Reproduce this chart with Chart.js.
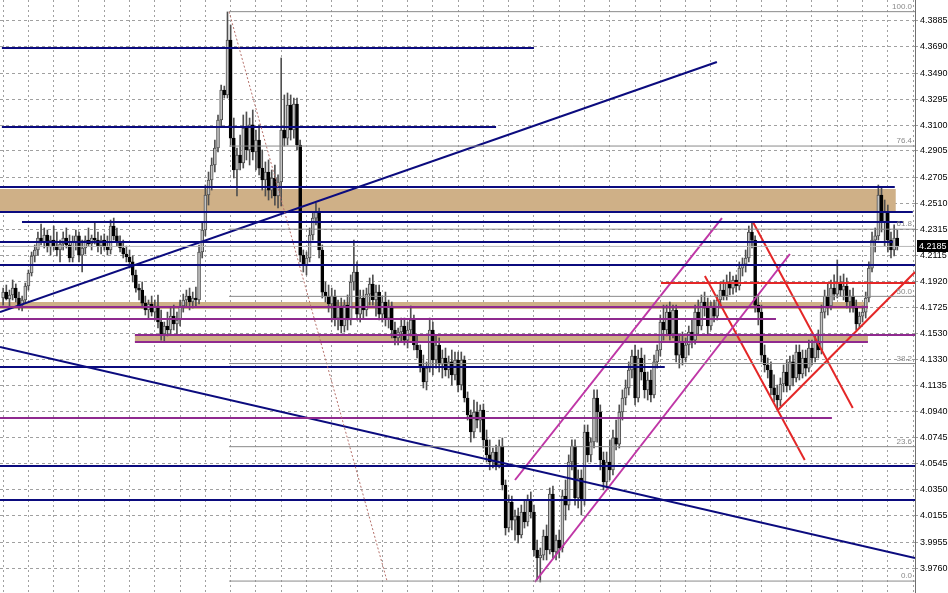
<!DOCTYPE html>
<html>
<head>
<meta charset="utf-8">
<script src="https://cdn.jsdelivr.net/npm/chart.js@4.4.1/dist/chart.umd.min.js"></script>
<style>
html, body { margin: 0; padding: 0; background: #fff; }
#wrap { width: 948px; height: 593px; }
</style>
</head>
<body>
<div id="wrap"><canvas id="chart"></canvas></div>
<script>
// candles, oldest first
const opens = [
4.1796,4.1841,4.1789,4.1819,4.1871,4.1796,4.1743,4.1781,4.1887,4.1985,
4.2113,4.2158,4.2248,4.2218,4.2271,4.2181,4.2233,4.2188,4.2158,4.2203,
4.2248,4.2196,4.2098,4.2218,4.2264,4.2120,4.2173,4.2233,4.2203,4.2248,
4.2233,4.2188,4.2233,4.2181,4.2158,4.2339,4.2264,4.2218,4.2173,4.2128,
4.2105,4.2068,4.1969,4.1871,4.1856,4.1758,4.1706,4.1751,4.1690,4.1736,
4.1615,4.1525,4.1585,4.1555,4.1660,4.1600,4.1630,4.1736,4.1781,4.1811,
4.1766,4.1796,4.1781,4.2143,4.2309,4.2573,4.2686,4.2799,4.2927,4.3138,
4.3364,4.3327,4.3741,4.3002,4.2761,4.2874,4.2814,4.3078,4.2912,4.3101,
4.2897,4.2987,4.2776,4.2686,4.2746,4.2610,4.2701,4.2565,4.2671,4.3063,
4.3002,4.3251,4.3063,4.3259,4.2950,4.2120,4.2045,4.2098,4.2271,4.2399,
4.2445,4.2158,4.1841,4.1811,4.1751,4.1811,4.1645,4.1736,4.1585,4.1743,
4.1630,4.1917,4.1992,4.1675,4.1796,4.1706,4.1826,4.1902,4.1781,4.1841,
4.1675,4.1766,4.1645,4.1736,4.1555,4.1495,4.1540,4.1585,4.1479,4.1555,
4.1630,4.1442,4.1404,4.1283,4.1163,4.1268,4.1555,4.1329,4.1442,4.1298,
4.1344,4.1253,4.1314,4.1216,4.1329,4.1140,4.1329,4.1042,4.0914,4.0786,
4.0937,4.0876,4.0952,4.0726,4.0613,4.0560,4.0635,4.0537,4.0680,4.0386,
4.0062,4.0258,4.0122,4.0152,4.0009,4.0183,4.0107,4.0273,4.0183,3.9896,
3.9836,3.9858,4.0002,3.9896,4.0318,3.9881,3.9971,3.9911,4.0303,4.0235,
4.0560,4.0680,4.0288,4.0439,4.0273,4.0786,4.0613,4.0711,4.1042,4.0937,
4.0575,4.0409,4.0560,4.0500,4.0741,4.0695,4.0937,4.1042,4.1118,4.1253,
4.1359,4.1042,4.1344,4.1238,4.1103,4.1178,4.1065,4.1314,4.1404,4.1615,
4.1555,4.1690,4.1525,4.1706,4.1366,4.1464,4.1344,4.1442,4.1540,4.1479,
4.1690,4.1585,4.1766,4.1721,4.1585,4.1736,4.1660,4.1781,4.1856,4.1811,
4.1917,4.1871,4.1932,4.1887,4.2022,4.2052,4.2098,4.2294,4.2233,4.1743,
4.1690,4.1366,4.1291,4.1253,4.1118,4.1065,4.1027,4.1148,4.1238,4.1133,
4.1314,4.1193,4.1389,4.1223,4.1344,4.1268,4.1419,4.1344,4.1464,4.1404,
4.1690,4.1811,4.1736,4.1871,4.1826,4.1917,4.1856,4.1887,4.1766,4.1811,
4.1721,4.1600,4.1660,4.1690,4.1796,4.2022,4.2233,4.2264,4.2573,4.2369,
4.2445,4.2233,4.2158,4.2248
];
const highs = [
4.1871,4.1894,4.1856,4.1932,4.1902,4.1841,4.1811,4.1909,4.2007,4.2143,
4.2196,4.2294,4.2354,4.2324,4.2309,4.2264,4.2339,4.2294,4.2233,4.2294,
4.2324,4.2271,4.2264,4.2309,4.2294,4.2233,4.2264,4.2324,4.2271,4.2369,
4.2294,4.2264,4.2279,4.2264,4.2384,4.2399,4.2324,4.2264,4.2233,4.2188,
4.2158,4.2113,4.2007,4.1902,4.1917,4.1811,4.1781,4.1811,4.1781,4.1819,
4.1706,4.1615,4.1690,4.1721,4.1743,4.1690,4.1781,4.1826,4.1856,4.1871,
4.1841,4.1879,4.2196,4.2369,4.2648,4.2746,4.2852,4.2987,4.3176,4.3402,
4.3394,4.3953,4.3855,4.3153,4.2927,4.3025,4.3176,4.3199,4.3153,4.3214,
4.3063,4.3101,4.2912,4.2822,4.2837,4.2761,4.2799,4.2724,4.3606,4.3327,
4.3342,4.3327,4.3304,4.3304,4.2987,4.2158,4.2143,4.2324,4.2445,4.2512,
4.2475,4.2196,4.1917,4.1894,4.1871,4.1856,4.1781,4.1796,4.1781,4.1819,
4.1970,4.2233,4.2068,4.1856,4.1856,4.1871,4.1947,4.1970,4.1894,4.1894,
4.1811,4.1841,4.1781,4.1766,4.1615,4.1570,4.1645,4.1645,4.1615,4.1736,
4.1668,4.1510,4.1442,4.1366,4.1314,4.1645,4.1615,4.1517,4.1495,4.1404,
4.1419,4.1359,4.1404,4.1389,4.1389,4.1389,4.1359,4.1088,4.0952,4.1027,
4.1012,4.0990,4.0997,4.0801,4.0726,4.0665,4.0688,4.0726,4.0741,4.0424,
4.0311,4.0303,4.0198,4.0213,4.0235,4.0273,4.0311,4.0334,4.0235,3.9971,
3.9911,4.0047,4.0085,4.0364,4.0379,4.0009,4.0047,4.0349,4.0424,4.0613,
4.0726,4.0726,4.0500,4.0500,4.0839,4.0839,4.0741,4.1103,4.1103,4.0990,
4.0635,4.0635,4.0726,4.0801,4.0876,4.0990,4.1103,4.1178,4.1314,4.1404,
4.1442,4.1404,4.1419,4.1366,4.1238,4.1253,4.1366,4.1442,4.1668,4.1743,
4.1743,4.1766,4.1743,4.1743,4.1517,4.1540,4.1495,4.1585,4.1630,4.1743,
4.1781,4.1819,4.1841,4.1796,4.1766,4.1781,4.1819,4.1917,4.1932,4.1970,
4.1992,4.1962,4.1970,4.2068,4.2098,4.2158,4.2339,4.2369,4.2264,4.1819,
4.1743,4.1442,4.1344,4.1314,4.1216,4.1140,4.1193,4.1291,4.1329,4.1359,
4.1366,4.1442,4.1442,4.1404,4.1404,4.1479,4.1479,4.1510,4.1555,4.1743,
4.1856,4.1902,4.1932,4.1970,4.2083,4.1962,4.1977,4.1947,4.1856,4.1871,
4.1781,4.1690,4.1736,4.1841,4.2068,4.2294,4.2324,4.2648,4.2626,4.2535,
4.2497,4.2294,4.2347,4.2309
];
const lows = [
4.1743,4.1781,4.1736,4.1781,4.1766,4.1706,4.1698,4.1758,4.1856,4.1962,
4.2068,4.2120,4.2196,4.2173,4.2143,4.2120,4.2158,4.2113,4.2068,4.2158,
4.2173,4.2068,4.2068,4.2158,4.2068,4.1992,4.2128,4.2188,4.2158,4.2203,
4.2143,4.2128,4.2158,4.2120,4.2128,4.2233,4.2188,4.2143,4.2098,4.2068,
4.2022,4.1917,4.1841,4.1781,4.1721,4.1668,4.1645,4.1660,4.1630,4.1570,
4.1479,4.1464,4.1510,4.1517,4.1555,4.1525,4.1585,4.1690,4.1736,4.1706,
4.1721,4.1736,4.1751,4.2098,4.2264,4.2497,4.2610,4.2746,4.2897,4.3093,
4.3304,4.3304,4.2950,4.2701,4.2565,4.2761,4.2776,4.2837,4.2799,4.2837,
4.2761,4.2724,4.2610,4.2565,4.2535,4.2550,4.2497,4.2475,4.2490,4.2942,
4.2950,4.2987,4.3002,4.2912,4.2068,4.1992,4.1970,4.2068,4.2233,4.2347,
4.2098,4.1796,4.1766,4.1690,4.1615,4.1585,4.1555,4.1532,4.1540,4.1555,
4.1593,4.1856,4.1630,4.1615,4.1645,4.1660,4.1743,4.1743,4.1660,4.1630,
4.1615,4.1585,4.1570,4.1495,4.1442,4.1442,4.1464,4.1442,4.1419,4.1510,
4.1404,4.1344,4.1238,4.1118,4.1103,4.1238,4.1216,4.1268,4.1238,4.1193,
4.1208,4.1193,4.1140,4.1178,4.1088,4.1103,4.1012,4.0876,4.0710,4.0741,
4.0816,4.0786,4.0665,4.0560,4.0500,4.0515,4.0500,4.0515,4.0349,4.0009,
4.0032,4.0047,3.9971,3.9949,3.9987,4.0062,4.0077,4.0137,3.9851,3.9670,
3.9655,3.9821,3.9821,3.9866,3.9836,3.9821,3.9836,3.9881,4.0122,4.0198,
4.0500,4.0235,4.0213,4.0160,4.0235,4.0560,4.0560,4.0665,4.0710,4.0500,
4.0349,4.0364,4.0424,4.0462,4.0650,4.0665,4.0876,4.0990,4.1065,4.1193,
4.0990,4.1012,4.1178,4.1042,4.1027,4.1012,4.1042,4.1268,4.1359,4.1479,
4.1510,4.1479,4.1495,4.1314,4.1268,4.1291,4.1314,4.1366,4.1419,4.1449,
4.1517,4.1555,4.1660,4.1525,4.1555,4.1615,4.1630,4.1736,4.1781,4.1781,
4.1819,4.1826,4.1841,4.1856,4.1962,4.1992,4.2068,4.2173,4.1690,4.1593,
4.1314,4.1238,4.1193,4.1065,4.1012,4.0952,4.0982,4.1088,4.1088,4.1103,
4.1133,4.1163,4.1178,4.1193,4.1208,4.1238,4.1291,4.1314,4.1344,4.1374,
4.1645,4.1668,4.1706,4.1781,4.1796,4.1811,4.1781,4.1721,4.1690,4.1690,
4.1555,4.1570,4.1615,4.1645,4.1766,4.1992,4.2143,4.2233,4.2294,4.2188,
4.2143,4.2098,4.2113,4.2158
];
const closes = [
4.1841,4.1789,4.1819,4.1871,4.1796,4.1743,4.1781,4.1887,4.1985,4.2113,
4.2158,4.2248,4.2218,4.2271,4.2181,4.2233,4.2188,4.2158,4.2203,4.2248,
4.2196,4.2098,4.2218,4.2264,4.2120,4.2173,4.2233,4.2203,4.2248,4.2233,
4.2188,4.2233,4.2181,4.2158,4.2339,4.2264,4.2218,4.2173,4.2128,4.2105,
4.2068,4.1969,4.1871,4.1856,4.1758,4.1706,4.1751,4.1690,4.1736,4.1615,
4.1525,4.1585,4.1555,4.1660,4.1600,4.1630,4.1736,4.1781,4.1811,4.1766,
4.1796,4.1781,4.2143,4.2309,4.2573,4.2686,4.2799,4.2927,4.3138,4.3364,
4.3327,4.3741,4.3002,4.2761,4.2874,4.2814,4.3078,4.2912,4.3101,4.2897,
4.2987,4.2776,4.2686,4.2746,4.2610,4.2701,4.2565,4.2671,4.3063,4.3002,
4.3251,4.3063,4.3259,4.2950,4.2120,4.2045,4.2098,4.2271,4.2399,4.2445,
4.2158,4.1841,4.1811,4.1751,4.1811,4.1645,4.1736,4.1585,4.1743,4.1630,
4.1917,4.1992,4.1675,4.1796,4.1706,4.1826,4.1902,4.1781,4.1841,4.1675,
4.1766,4.1645,4.1736,4.1555,4.1495,4.1540,4.1585,4.1479,4.1555,4.1630,
4.1442,4.1404,4.1283,4.1163,4.1268,4.1555,4.1329,4.1442,4.1298,4.1344,
4.1253,4.1314,4.1216,4.1329,4.1140,4.1329,4.1042,4.0914,4.0786,4.0937,
4.0876,4.0952,4.0726,4.0613,4.0560,4.0635,4.0537,4.0680,4.0386,4.0062,
4.0258,4.0122,4.0152,4.0009,4.0183,4.0107,4.0273,4.0183,3.9896,3.9836,
3.9858,4.0002,3.9896,4.0318,3.9881,3.9971,3.9911,4.0303,4.0235,4.0560,
4.0680,4.0288,4.0439,4.0273,4.0786,4.0613,4.0711,4.1042,4.0937,4.0575,
4.0409,4.0560,4.0500,4.0741,4.0695,4.0937,4.1042,4.1118,4.1253,4.1359,
4.1042,4.1344,4.1238,4.1103,4.1178,4.1065,4.1314,4.1404,4.1615,4.1555,
4.1690,4.1525,4.1706,4.1366,4.1464,4.1344,4.1442,4.1540,4.1479,4.1690,
4.1585,4.1766,4.1721,4.1585,4.1736,4.1660,4.1781,4.1856,4.1811,4.1917,
4.1871,4.1932,4.1887,4.2022,4.2052,4.2098,4.2294,4.2233,4.1743,4.1690,
4.1366,4.1291,4.1253,4.1118,4.1065,4.1027,4.1148,4.1238,4.1133,4.1314,
4.1193,4.1389,4.1223,4.1344,4.1268,4.1419,4.1344,4.1464,4.1404,4.1690,
4.1811,4.1736,4.1871,4.1826,4.1917,4.1856,4.1887,4.1766,4.1811,4.1721,
4.1600,4.1660,4.1690,4.1796,4.2022,4.2233,4.2264,4.2573,4.2369,4.2445,
4.2233,4.2158,4.2248,4.2185
];

// price axis labels
const tickValues = [4.3885,4.3690,4.3490,4.3295,4.3100,4.2905,4.2705,4.2510,4.2315,4.2115,
  4.1920,4.1725,4.1530,4.1330,4.1135,4.0940,4.0745,4.0545,4.0350,4.0155,3.9955,3.9760];
const lastPrice = 4.2185;

// drawn objects: [price, fromBar, toBar]
const navyLevels = [
  [4.3681, -0.4, 168], [4.3085, -0.4, 156], [4.2633, -1, 282.2], [4.2445, -1, 287.9],
  [4.2369, 5.96, 284.8], [4.2218, -1, 281.6], [4.2045, -1, 288.6], [4.1276, -1, 209.4],
  [4.0529, -1, 288.6], [4.0273, -1, 288.6]
];
const purpleLevels = [
  [4.1728, -1, 273.7], [4.1638, -1, 244.6], [4.1517, 41.7, 288.6],
  [4.1464, 41.7, 273.7], [4.0891, -1, 262.3]
];
const redLevels = [[4.1909, 208.2, 288.6]];
// trend lines: [bar1, price1, bar2, price2]
const navyTrends = [[-1, 4.1691, 225.9, 4.3576], [-1, 4.1427, 288.6, 3.9836]];
const magentaTrends = [[162, 4.0424, 227.5, 4.2399], [168.3, 3.9655, 249, 4.2128]];
const redTrends = [[237.3, 4.2369, 268.9, 4.0967], [222.1, 4.1962, 253.7, 4.0575], [245.2, 4.0952, 288.6, 4.1992]];
// rectangles: [bar1, bar2, priceTop, priceBottom]
const tanZones = [[-1, 282.5, 4.2618, 4.2452], [-1, 273.7, 4.1766, 4.1713], [41.7, 273.7, 4.1517, 4.1464]];
// fibonacci
const fibHigh = 4.3955, fibLow = 3.9662;
const fibHighBar = 71.5, fibLowBar = 121.5;
const fibLevels = [0, 23.6, 38.2, 50.0, 61.8, 76.4, 100.0];

const X_MIN = -1, X_MAX = 288.6;
const FONT = "'Liberation Sans', Arial, sans-serif";

function seg(x1, y1, x2, y2, color, width, dash) {
  return {
    type: 'line',
    data: [{x: x1, y: y1}, {x: x2, y: y2}],
    borderColor: color,
    borderWidth: width,
    borderDash: dash || [],
    pointRadius: 0,
    fill: false,
    tension: 0,
    order: 0
  };
}

const lineSets = [];
fibLevels.forEach(l => {
  const p = fibLow + (fibHigh - fibLow) * l / 100;
  lineSets.push(seg(fibHighBar, p, X_MAX, p, '#8a8a8a', 1));
});
lineSets.push(seg(X_MIN, lastPrice, X_MAX, lastPrice, '#b8b8b8', 1));
lineSets.push(seg(fibHighBar, fibHigh, fibLowBar, fibLow, '#b5706a', 1, [2, 2]));
navyLevels.forEach(l => lineSets.push(seg(l[1], l[0], l[2], l[0], '#0b0b7e', 2)));
purpleLevels.forEach(l => lineSets.push(seg(l[1], l[0], l[2], l[0], '#8f2a8f', 2)));
redLevels.forEach(l => lineSets.push(seg(l[1], l[0], l[2], l[0], '#e42727', 2)));
navyTrends.forEach(t => lineSets.push(seg(t[0], t[1], t[2], t[3], '#0b0b7e', 2)));
magentaTrends.forEach(t => lineSets.push(seg(t[0], t[1], t[2], t[3], '#bf36a6', 2)));
redTrends.forEach(t => lineSets.push(seg(t[0], t[1], t[2], t[3], '#e42727', 2)));

const isDown = i => closes[i] < opens[i];

// rectangles behind the candles
const zonePlugin = {
  id: 'zones',
  beforeDatasetsDraw(chart) {
    const {ctx, chartArea, scales: {x, y}} = chart;
    ctx.save();
    ctx.beginPath();
    ctx.rect(chartArea.left, chartArea.top, chartArea.width, chartArea.height);
    ctx.clip();
    ctx.fillStyle = '#cfb087';
    tanZones.forEach(z => {
      const x1 = x.getPixelForValue(z[0]), x2 = x.getPixelForValue(z[1]);
      const y1 = y.getPixelForValue(z[2]), y2 = y.getPixelForValue(z[3]);
      ctx.fillRect(x1, y1, x2 - x1, y2 - y1);
    });
    ctx.restore();
  },
  afterDraw(chart) {
    const {ctx, chartArea, scales: {y}} = chart;
    ctx.save();
    // fibo level captions
    ctx.font = '8px ' + FONT;
    ctx.fillStyle = '#8a8a8a';
    ctx.textAlign = 'right';
    ctx.textBaseline = 'bottom';
    fibLevels.forEach(l => {
      const p = fibLow + (fibHigh - fibLow) * l / 100;
      ctx.fillText(l.toFixed(1), chartArea.right - 3, y.getPixelForValue(p) - 1);
    });
    // current price tag
    const py = y.getPixelForValue(lastPrice);
    ctx.fillStyle = '#000';
    ctx.fillRect(chartArea.right + 2, Math.round(py) - 6, 31, 12);
    ctx.fillStyle = '#fff';
    ctx.font = '9px ' + FONT;
    ctx.textAlign = 'left';
    ctx.textBaseline = 'middle';
    ctx.fillText(lastPrice.toFixed(4), chartArea.right + 4, py + 0.5);
    ctx.restore();
  }
};

new Chart(document.getElementById('chart'), {
  type: 'bar',
  data: {
    datasets: [
      ...lineSets,
      {
        label: 'body',
        data: opens.map((o, i) => ({x: i, y: [o, closes[i]]})),
        backgroundColor: c => isDown(c.dataIndex) ? '#000000' : '#c4c4c4',
        borderColor: c => isDown(c.dataIndex) ? '#000000' : '#505050',
        borderWidth: 1,
        borderSkipped: false,
        barThickness: 3,
        minBarLength: 1,
        grouped: false,
        order: 1
      },
      {
        label: 'wick',
        data: highs.map((h, i) => ({x: i, y: [lows[i], h]})),
        backgroundColor: '#505050',
        borderWidth: 0,
        barThickness: 1,
        grouped: false,
        order: 2
      }
    ]
  },
  options: {
    responsive: true,
    maintainAspectRatio: false,
    animation: false,
    devicePixelRatio: 1,
    layout: { padding: 0 },
    plugins: {
      legend: { display: false },
      tooltip: { enabled: false }
    },
    scales: {
      x: {
        type: 'linear',
        min: X_MIN,
        max: X_MAX,
        offset: false,
        grid: { color: '#a0a0a0', drawTicks: false, offset: false },
        border: { display: false, dash: [2, 3] },
        ticks: { display: false },
        afterBuildTicks: s => {
          const t = [];
          for (let v = 0; v <= X_MAX; v += 8) t.push({value: v});
          s.ticks = t;
        },
        afterFit: s => { s.height = 0; s.paddingLeft = 0; s.paddingRight = 0; }
      },
      y: {
        position: 'right',
        min: 3.9572,
        max: 4.4043,
        grid: { color: '#a0a0a0', tickLength: 3 },
        border: { display: true, color: '#707070', width: 1, dash: [3, 3] },
        ticks: {
          color: '#000',
          padding: 2,
          font: { family: FONT, size: 9 },
          callback: v => v.toFixed(4)
        },
        afterBuildTicks: s => { s.ticks = tickValues.map(v => ({value: v})); },
        afterFit: s => { s.width = 33; s.paddingTop = 0; s.paddingBottom = 0; }
      }
    }
  },
  plugins: [zonePlugin]
});
</script>
</body>
</html>
